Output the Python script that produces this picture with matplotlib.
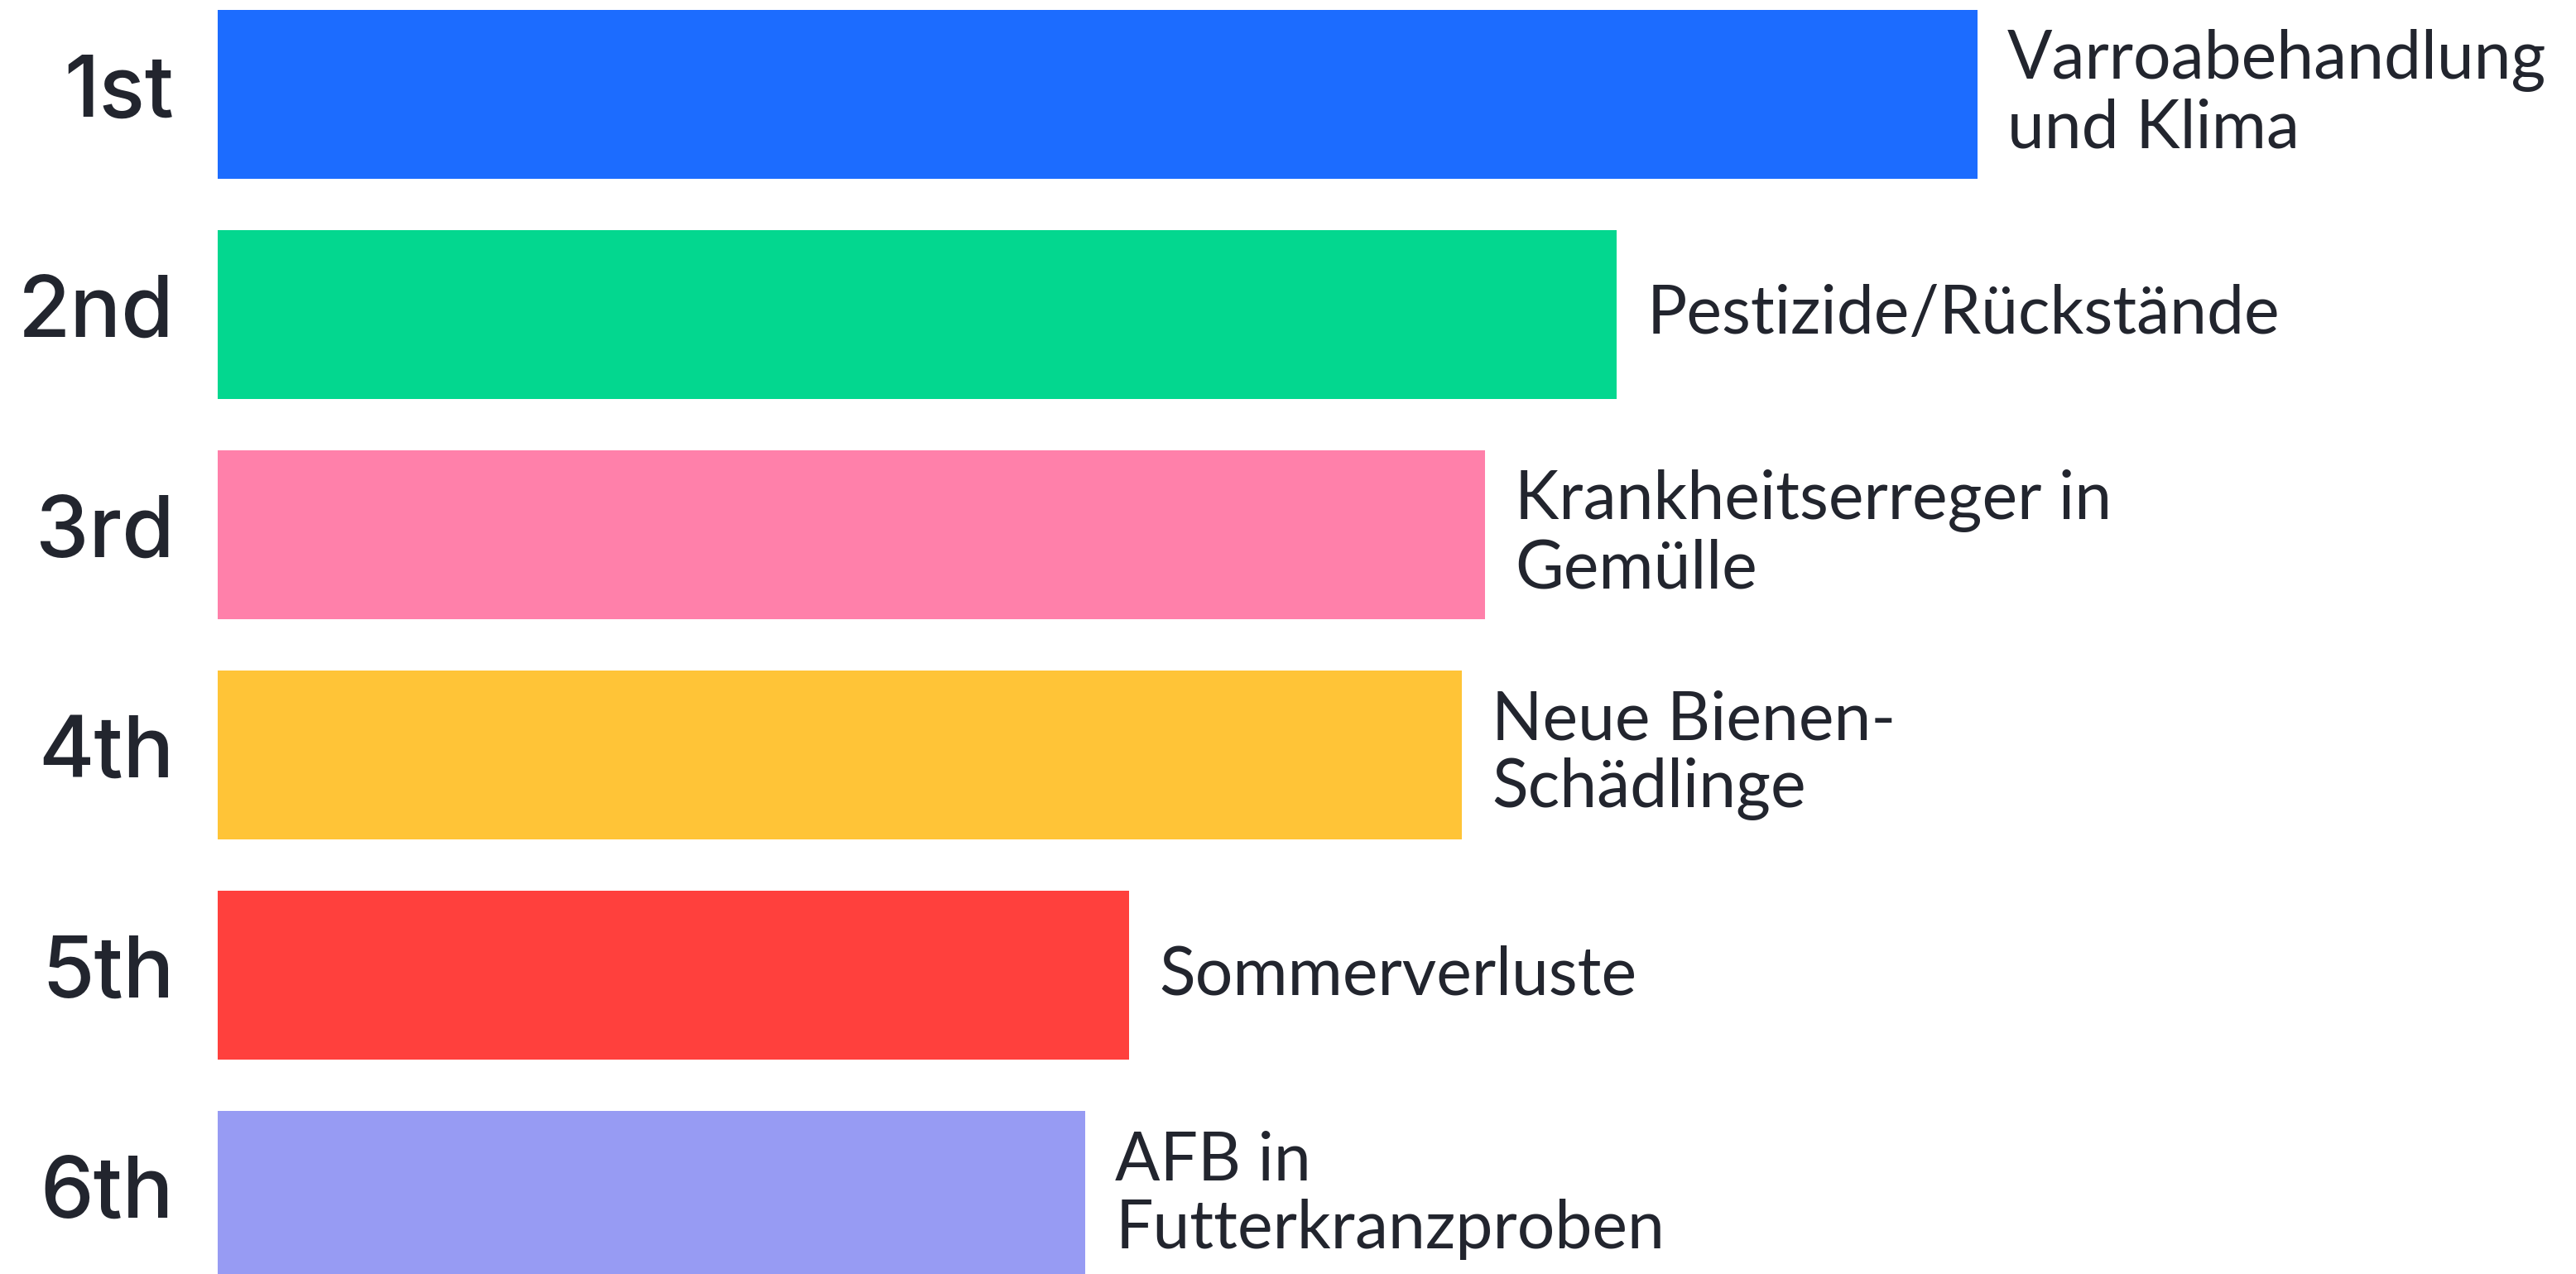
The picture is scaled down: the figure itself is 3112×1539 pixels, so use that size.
import matplotlib
matplotlib.use("Agg")
import matplotlib.pyplot as plt

ranks = ["1st", "2nd", "3rd", "4th", "5th", "6th"]
topics = ["Varroabehandlung\nund Klima", "Pestizide/Rückstände", "Krankheitserreger in\nGemülle",
          "Neue Bienen-\nSchädlinge", "Sommerverluste", "AFB in\nFutterkranzproben"]
scores = [100, 79.5, 72.0, 70.7, 51.8, 49.3]
colors = ["#1c6cff", "#03d78f", "#ff80aa", "#ffc437", "#ff403d", "#979bf3"]

W, H = 3112, 1539
fig = plt.figure(figsize=(W / 100, H / 100), dpi=100)
# axes: bar start at x=263px, value 100 -> 2126px wide
ax = fig.add_axes([263 / W, 0, 2126 / W, 1])
ax.set_xlim(0, 100)
ax.set_ylim(5.357, -0.4286)
ax.axis("off")

ypos = list(range(len(ranks)))
ax.barh(ypos, scores, height=0.767, color=colors)

txt = "#22252e"
for y, s, r, t in zip(ypos, scores, ranks, topics):
    ax.annotate(t, (s, y), xytext=(26, 0), textcoords="offset points",
                ha="left", va="center", fontsize=58, color=txt,
                family="Lato", linespacing=1.12, annotation_clip=False)
    ax.annotate(r, (0, y), xytext=(-38, 0), textcoords="offset points",
                ha="right", va="center", fontsize=74, color=txt,
                family="Inter", fontweight="medium", annotation_clip=False)

fig.savefig("out.png", dpi=100)
